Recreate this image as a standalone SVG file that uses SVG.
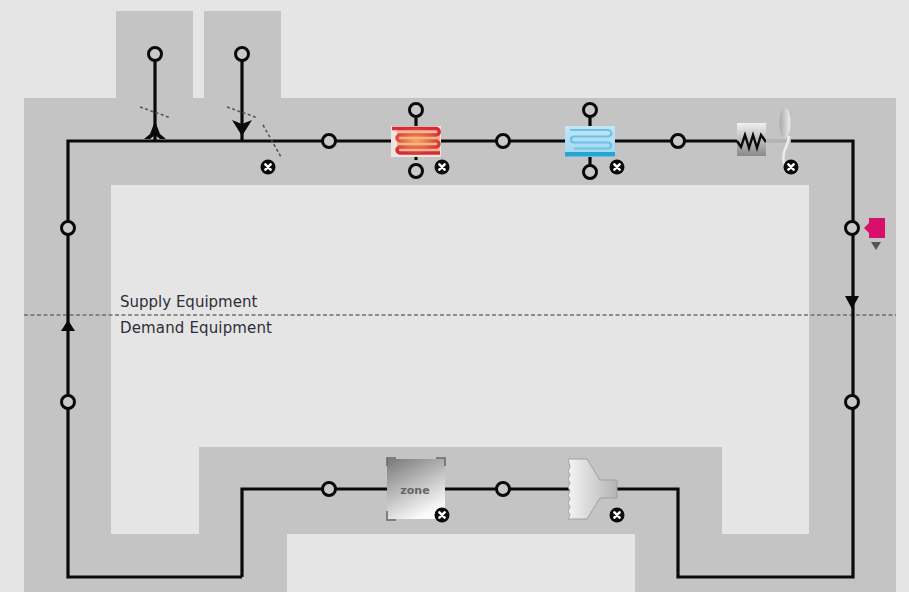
<svg xmlns="http://www.w3.org/2000/svg" width="909" height="592" viewBox="0 0 909 592">
<style>
.wire{fill:none;stroke:#0a0a0a;stroke-width:3.2}
.node{fill:#cacaca;stroke:#0a0a0a;stroke-width:3}
.dash{fill:none;stroke:#555;stroke-width:1.6;stroke-dasharray:3 2.5}
.lbl{font-family:"DejaVu Sans",sans-serif;font-size:15px;fill:#2e2e38}
.xb{fill:#0a0a0a}
.xm{stroke:#fff;stroke-width:2.6;stroke-linecap:round}
</style>
<defs>
<radialGradient id="hot" cx=".5" cy=".5" r=".55"><stop offset="0" stop-color="#f8a850"/><stop offset="1" stop-color="#d42c38"/></radialGradient>
<linearGradient id="cold" x1="0" x2="0" y1="0" y2="1"><stop offset="0" stop-color="#c4e6f6"/><stop offset=".8" stop-color="#a4daf2"/><stop offset="1" stop-color="#a4daf2"/></linearGradient>
<linearGradient id="coil" x1="0" x2="0" y1="0" y2="1"><stop offset="0" stop-color="#f0f0f0"/><stop offset="1" stop-color="#8a8a8a"/></linearGradient>
<linearGradient id="zone" x1="0" x2=".5" y1="0" y2="1"><stop offset="0" stop-color="#787878"/><stop offset="1" stop-color="#fafafa"/></linearGradient>
<linearGradient id="diff" x1="0" x2="1" y1="0" y2="0"><stop offset="0" stop-color="#f4f4f4"/><stop offset="1" stop-color="#b4b4b4"/></linearGradient>
<linearGradient id="fan" x1="0" x2="1" y1="0" y2="0"><stop offset="0" stop-color="#a8a8a8"/><stop offset="1" stop-color="#eeeeee"/></linearGradient>
<g id="x"><circle r="7.500" class="xb"/><path class="xm" d="M-2.600-2.600L2.600 2.600M2.600-2.600L-2.600 2.600"/></g>
</defs>
<rect width="909" height="592" fill="#e5e5e5"/>
<g id="band"><path fill="#c4c4c4" fill-rule="evenodd" d="M24 98H116V11H193V98H204V11H281V98H896V592H635V534H287V592H24ZM111 185V534H199V447H722V534H809V185Z"/></g>
<g id="divider"><path d="M24 315H896" fill="none" stroke="#6e6e6e" stroke-width="1.500" stroke-dasharray="4 2.500"/></g>
<g id="connectors">
<path class="wire" d="M242 577H68V141H853V577H678V489H242V577"/>
<path class="wire" d="M155 54V141M242 54V141M416 110V160M590 110V172"/>
<path d="M155 121L160 134L166 139H160L155 135L150 139H144L150 134Z" fill="#0a0a0a"/>
<path d="M232 120L242 124L252 120L242 136Z" fill="#0a0a0a"/>
<path d="M68 320L75 331H61Z" fill="#0a0a0a"/>
<path d="M845 296H859L852 309Z" fill="#0a0a0a"/>
<path class="dash" d="M140 107L171 118M227 107L258 118M263 125L281 157"/>
</g>
<g id="outdoor-in"><circle class="node" cx="155" cy="54" r="6.500"/></g>
<g id="outdoor-out"><circle class="node" cx="242" cy="54" r="6.500"/></g>
<g id="mixer-x"><use href="#x" x="268" y="167"/></g>
<g id="n1"><circle class="node" cx="329" cy="141" r="6.500"/></g>
<g id="heating-coil">
<rect x="391" y="126" width="50" height="31" fill="#f0e4e0"/>
<rect x="397" y="130" width="43" height="23" fill="#f2a070" opacity=".7"/>
<path d="M392 128.500H436a3 3 0 0 1 0 6.500H400a3 3 0 0 0 0 6H436a3 3 0 0 1 0 6H400a3 3 0 0 0 0 6H440" fill="none" stroke="url(#hot)" stroke-width="3.400"/>
<circle class="node" cx="416" cy="110" r="6.500"/><circle class="node" cx="416" cy="171" r="6.500"/>
<use href="#x" x="442" y="167"/></g>
<g id="n2"><circle class="node" cx="503" cy="141" r="6.500"/></g>
<g id="cooling-coil">
<rect x="565" y="126" width="50" height="31" fill="url(#cold)"/>
<path d="M570 130H608a3 3 0 0 1 0 6.500H574a3 3 0 0 0 0 6H608a3 3 0 0 1 0 6H574" fill="none" stroke="#70c0e6" stroke-width="2.200"/>
<rect x="565" y="152" width="50" height="4.500" fill="#28a4d0"/>
<circle class="node" cx="590" cy="110" r="6.500"/><circle class="node" cx="590" cy="172" r="6.500"/>
<use href="#x" x="617" y="167"/></g>
<g id="n3"><circle class="node" cx="678" cy="141" r="6.500"/></g>
<g id="electric-coil">
<rect x="737" y="123" width="29" height="33" fill="url(#coil)"/>
<path d="M737 141L741 147L745 135L749 148L753 135L757 148L761 135L766 142" fill="none" stroke="#0a0a0a" stroke-width="2.400"/>
</g>
<g id="fan-node">
<rect x="766" y="139" width="25" height="4" fill="#b4b4b4"/>
<ellipse cx="785" cy="123" rx="5.500" ry="15.500" fill="url(#fan)"/>
<path d="M789 136C789 146 781 150 784 164" fill="none" stroke="#ececec" stroke-width="2.600"/>
<use href="#x" x="791" y="167"/></g>
<g id="n4"><circle class="node" cx="852" cy="228" r="6.500"/></g>
<g id="setpoint">
<path d="M864 228L869 223V218H885V238H869V233Z" fill="#d8106c"/>
<path d="M871 242H881L876 250Z" fill="#555"/></g>
<g id="n5"><circle class="node" cx="852" cy="402" r="6.500"/></g>
<g id="n6"><circle class="node" cx="68" cy="228" r="6.500"/></g>
<g id="n7"><circle class="node" cx="68" cy="402" r="6.500"/></g>
<g id="labels"><text class="lbl" x="120" y="307">Supply Equipment</text><text class="lbl" x="120" y="333" textLength="152">Demand Equipment</text></g>
<g id="n8"><circle class="node" cx="329" cy="489" r="6.500"/></g>
<g id="zone-node">
<rect x="387" y="459" width="58" height="60" fill="url(#zone)"/>
<path d="M387 466V458H396M436 458H445V466M387 511V520H396" fill="none" stroke="#666" stroke-width="1.500"/>
<text x="415" y="494" text-anchor="middle" font-family="DejaVu Sans,sans-serif" font-size="11" font-weight="bold" fill="#666">zone</text>
<use href="#x" x="442" y="515"/></g>
<g id="n9"><circle class="node" cx="503" cy="489" r="6.500"/></g>
<g id="terminal">
<path d="M568 459H587L600 480H617V498H600L587 519H568L570 515L568 511L570 507L568 503L570 499L568 495L570 491L568 487L570 483L568 479L570 475L568 471L570 467Z" fill="url(#diff)" stroke="#a0a0a0"/>
<use href="#x" x="617" y="515"/></g>
</svg>
